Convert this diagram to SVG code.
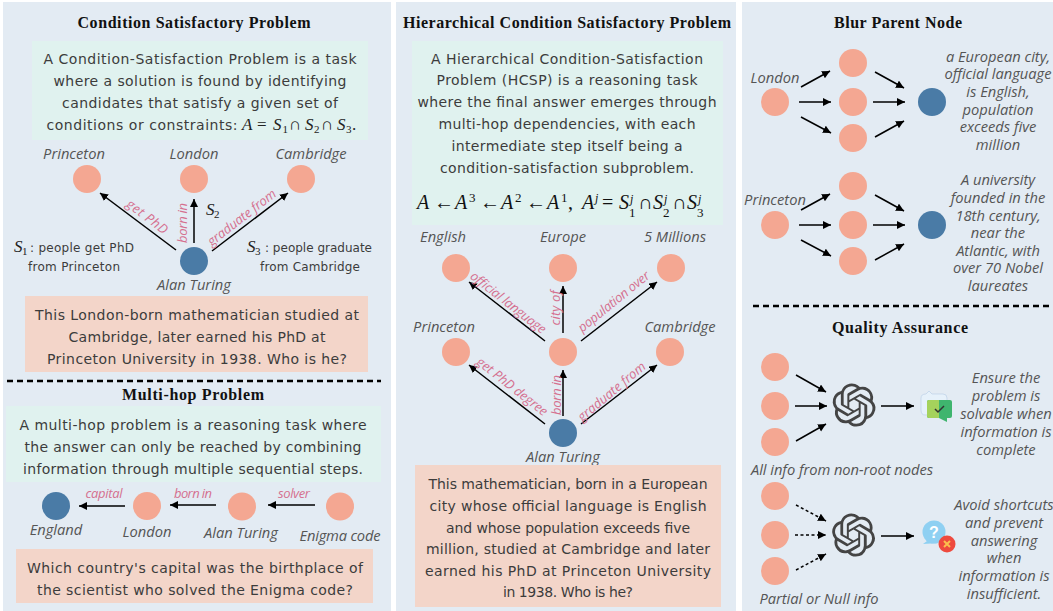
<svg xmlns="http://www.w3.org/2000/svg" width="1053" height="611" viewBox="0 0 1053 611">
<style>
.panel{fill:#e3ebf3}
.g{fill:#e0f2ef}
.o{fill:#f3d5c9}
.t{font:bold 16px "Liberation Serif",serif;fill:#111;text-anchor:middle}
.b{font:14px "DejaVu Sans",sans-serif;fill:#3c3c3c;text-anchor:middle}
.s{font:12px "DejaVu Sans",sans-serif;fill:#3c3c3c;text-anchor:middle}
.h{font:italic 14.7px "Open Sans",sans-serif;fill:#555;text-anchor:middle}
.e{font:italic 13px "Open Sans",sans-serif;fill:#d5708f;text-anchor:middle}
.m{font:italic 17px "Liberation Serif",serif;fill:#222}
.mr{font:17px "Liberation Serif",serif;fill:#222}
.u{font:11px "Liberation Serif",serif;fill:#222}
.M{font:italic 20px "Liberation Serif",serif;fill:#111}
.Mr{font:20px "Liberation Serif",serif;fill:#111}
.sm{font:italic 12px "Liberation Serif",serif;fill:#111}
.smr{font:13px "Liberation Serif",serif;fill:#111}
.n{fill:#f4a792}
.r{fill:#4a7ba6}
.a{stroke:#000;stroke-width:1.5;fill:none;marker-end:url(#ah)}
.d{stroke-dasharray:3 2.5}
.sep{stroke:#000;stroke-width:2.5;stroke-dasharray:6 4;fill:none}
</style>
<defs>
<marker id="ah" markerUnits="userSpaceOnUse" markerWidth="10" markerHeight="10" refX="8" refY="4" orient="auto"><path d="M0 0L8 4L0 8Z" fill="#000"/></marker>
<path id="gpt" fill="#444" transform="translate(-21.6,-21.6) scale(1.8)" d="M22.2819 9.8211a5.9847 5.9847 0 0 0-.5157-4.9108 6.0462 6.0462 0 0 0-6.5098-2.9A6.0651 6.0651 0 0 0 4.9807 4.1818a5.9847 5.9847 0 0 0-3.9977 2.9 6.0462 6.0462 0 0 0 .7427 7.0966 5.98 5.98 0 0 0 .511 4.9107 6.051 6.051 0 0 0 6.5146 2.9001A5.9847 5.9847 0 0 0 13.2599 24a6.0557 6.0557 0 0 0 5.7718-4.2058 5.9894 5.9894 0 0 0 3.9977-2.9001 6.0557 6.0557 0 0 0-.7475-7.0729zm-9.022 12.6081a4.4755 4.4755 0 0 1-2.8764-1.0408l.1419-.0804 4.7783-2.7582a.7948.7948 0 0 0 .3927-.6813v-6.7369l2.02 1.1686a.071.071 0 0 1 .038.052v5.5826a4.504 4.504 0 0 1-4.4945 4.4944zm-9.6607-4.1254a4.4708 4.4708 0 0 1-.5346-3.0137l.142.0852 4.783 2.7582a.7712.7712 0 0 0 .7806 0l5.8428-3.3685v2.3324a.0804.0804 0 0 1-.0332.0615L9.74 19.9502a4.4992 4.4992 0 0 1-6.1408-1.6464zM2.3408 7.8956a4.485 4.485 0 0 1 2.3655-1.9728V11.6a.7664.7664 0 0 0 .3879.6765l5.8144 3.3543-2.0201 1.1685a.0757.0757 0 0 1-.071 0l-4.8303-2.7865A4.504 4.504 0 0 1 2.3408 7.872zm16.5963 3.8558L13.1038 8.364 15.1192 7.2a.0757.0757 0 0 1 .071 0l4.8303 2.7913a4.4944 4.4944 0 0 1-.6765 8.1042v-5.6772a.79.79 0 0 0-.407-.667zm2.0107-3.0231l-.142-.0852-4.7735-2.7818a.7759.7759 0 0 0-.7854 0L9.409 9.2297V6.8974a.0662.0662 0 0 1 .0284-.0615l4.8303-2.7866a4.4992 4.4992 0 0 1 6.6802 4.66zM8.3065 12.863l-2.02-1.1638a.0804.0804 0 0 1-.038-.0567V6.0742a4.4992 4.4992 0 0 1 7.3757-3.4537l-.142.0805L8.704 5.459a.7948.7948 0 0 0-.3927.6813zm1.0976-2.3654l2.602-1.4998 2.6069 1.4998v2.9994l-2.5974 1.4997-2.6067-1.4997Z"/>
</defs>
<rect width="1053" height="611" fill="#fff"/>
<rect class="panel" x="3" y="2" width="388" height="609"/>
<rect class="panel" x="396" y="2" width="340" height="609"/>
<rect class="panel" x="742" y="2" width="311" height="609"/>

<g id="csp-box">
<text class="t" x="194" y="28" textLength="233">Condition Satisfactory Problem</text>
<rect class="g" x="32" y="41" width="336" height="99"/>
<text class="b" x="200" y="64" textLength="313">A Condition-Satisfaction Problem is a task</text>
<text class="b" x="200" y="86" textLength="293">where a solution is found by identifying</text>
<text class="b" x="200" y="108" textLength="276">candidates that satisfy a given set of</text>
<text class="b" x="142" y="130" textLength="191">conditions or constraints:</text>
<text class="m" x="242" y="130">A</text><text class="mr" x="257" y="130">=</text><text class="m" x="273" y="130">S</text><text class="u" x="282.500" y="133">1</text><text class="mr" x="289" y="130">∩</text><text class="m" x="305" y="130">S</text><text class="u" x="314" y="133">2</text><text class="mr" x="321" y="130">∩</text><text class="m" x="337" y="130">S</text><text class="u" x="346" y="133">3</text><text class="mr" x="352" y="130">.</text>
</g>
<g id="csp-edges">
<line class="a" x1="176" y1="250" x2="100" y2="193"/>
<line class="a" x1="194" y1="243" x2="194" y2="199"/>
<line class="a" x1="212" y1="251" x2="288" y2="193"/>
<text class="e" transform="translate(144.600,220.200) rotate(37)" textLength="48">get PhD</text>
<text class="e" transform="translate(187,223) rotate(-90)" textLength="40">born in</text>
<text class="e" transform="translate(244.500,221) rotate(-38)" textLength="83">graduate from</text>
</g>
<g id="csp-princeton"><circle class="n" cx="87" cy="179" r="14"/><text class="h" x="74" y="159">Princeton</text></g>
<g id="csp-london"><circle class="n" cx="194" cy="179" r="14"/><text class="h" x="194" y="159">London</text></g>
<g id="csp-cambridge"><circle class="n" cx="301" cy="179" r="14"/><text class="h" x="311" y="159">Cambridge</text></g>
<g id="csp-turing"><circle class="r" cx="194" cy="261" r="14"/><text class="h" x="194" y="290">Alan Turing</text></g>
<g id="csp-notes">
<text class="m" x="206" y="215">S</text><text class="u" x="214" y="218">2</text>
<text class="m" x="14" y="252">S</text><text class="u" x="22" y="255">1</text>
<text class="s" x="82" y="252" textLength="104">: people get PhD</text>
<text class="s" x="74" y="271" textLength="92">from Princeton</text>
<text class="m" x="247" y="252">S</text><text class="u" x="255" y="255">3</text>
<text class="s" x="318.500" y="252" textLength="107">: people graduate</text>
<text class="s" x="310" y="271" textLength="100">from Cambridge</text>
</g>
<g id="csp-question">
<rect class="o" x="25" y="296" width="343" height="76"/>
<text class="b" x="197" y="320" textLength="324">This London-born mathematician studied at</text>
<text class="b" x="197" y="342" textLength="257">Cambridge, later earned his PhD at</text>
<text class="b" x="197" y="364" textLength="300">Princeton University in 1938. Who is he?</text>
</g>
<line class="sep" x1="7" y1="381" x2="381" y2="381"/>

<g id="mh-box">
<text class="t" x="193" y="400" textLength="142">Multi-hop Problem</text>
<rect class="g" x="6" y="406" width="375" height="76"/>
<text class="b" x="193" y="430" textLength="347">A multi-hop problem is a reasoning task where</text>
<text class="b" x="193" y="452" textLength="337">the answer can only be reached by combining</text>
<text class="b" x="193" y="474" textLength="340">information through multiple sequential steps.</text>
</g>
<g id="mh-edges">
<line class="a" x1="125" y1="506" x2="79" y2="506"/>
<line class="a" x1="216" y1="505" x2="170" y2="505"/>
<line class="a" x1="315" y1="505" x2="268" y2="505"/>
<text class="e" x="104" y="498" textLength="37">capital</text>
<text class="e" x="193" y="498" textLength="38">born in</text>
<text class="e" x="294" y="498" textLength="32">solver</text>
</g>
<g id="mh-england"><circle class="r" cx="56" cy="506" r="14"/><text class="h" x="56" y="535">England</text></g>
<g id="mh-london"><circle class="n" cx="147" cy="506" r="14"/><text class="h" x="147" y="537">London</text></g>
<g id="mh-turing"><circle class="n" cx="242" cy="506.500" r="14"/><text class="h" x="241" y="538">Alan Turing</text></g>
<g id="mh-enigma"><circle class="n" cx="340" cy="506.500" r="14"/><text class="h" x="340" y="541" textLength="81">Enigma code</text></g>
<g id="mh-question">
<rect class="o" x="16" y="549" width="357" height="54"/>
<text class="b" x="195" y="573" textLength="336">Which country's capital was the birthplace of</text>
<text class="b" x="195" y="595" textLength="316">the scientist who solved the Enigma code?</text>
</g>

<g id="hcsp-box">
<text class="t" x="567" y="28" textLength="328">Hierarchical Condition Satisfactory Problem</text>
<rect class="g" x="412" y="41" width="311" height="184"/>
<text class="b" x="567" y="64" textLength="272">A Hierarchical Condition-Satisfaction</text>
<text class="b" x="567" y="85" textLength="261">Problem (HCSP) is a reasoning task</text>
<text class="b" x="567" y="107" textLength="299">where the final answer emerges through</text>
<text class="b" x="567" y="129" textLength="257">multi-hop dependencies, with each</text>
<text class="b" x="567" y="151" textLength="231">intermediate step itself being a</text>
<text class="b" x="567" y="173" textLength="254">condition-satisfaction subproblem.</text>
<text class="M" x="417" y="209">A</text><text class="Mr" x="434" y="209">←</text><text class="M" x="455" y="209">A</text><text class="smr" x="469" y="202">3</text><text class="Mr" x="480" y="209">←</text><text class="M" x="501" y="209">A</text><text class="smr" x="515" y="202">2</text><text class="Mr" x="526" y="209">←</text><text class="M" x="547" y="209">A</text><text class="smr" x="561" y="202">1</text><text class="Mr" x="568" y="209">,</text><text class="M" x="582" y="209">A</text><text class="sm" x="595" y="202">j</text><text class="Mr" x="602" y="209">=</text><text class="M" x="619" y="209">S</text><text class="sm" x="630" y="203">j</text><text class="smr" x="629" y="217">1</text><text class="Mr" x="638" y="209">∩</text><text class="M" x="653" y="209">S</text><text class="sm" x="664" y="203">j</text><text class="smr" x="663" y="217">2</text><text class="Mr" x="672" y="209">∩</text><text class="M" x="687" y="209">S</text><text class="sm" x="698" y="203">j</text><text class="smr" x="697" y="217">3</text>
</g>
<g id="hcsp-edges">
<line class="a" x1="545" y1="341" x2="469" y2="282"/>
<line class="a" x1="563" y1="333" x2="563" y2="286"/>
<line class="a" x1="581" y1="341" x2="657" y2="282"/>
<line class="a" x1="545" y1="424" x2="469" y2="365"/>
<line class="a" x1="563" y1="416" x2="563" y2="370"/>
<line class="a" x1="581" y1="424" x2="657" y2="365"/>
<text class="e" transform="translate(505.500,306) rotate(38)" textLength="92">official language</text>
<text class="e" transform="translate(559.500,308) rotate(-90)" textLength="35">city of</text>
<text class="e" transform="translate(616.500,305) rotate(-39)" textLength="88">population over</text>
<text class="e" transform="translate(509.500,390) rotate(38)" textLength="86">get PhD degree</text>
<text class="e" transform="translate(560.500,395) rotate(-90)" textLength="40">born in</text>
<text class="e" transform="translate(614.500,395) rotate(-40)" textLength="84">graduate from</text>
</g>
<g id="hcsp-english"><circle class="n" cx="456" cy="268" r="14"/><text class="h" x="443" y="242">English</text></g>
<g id="hcsp-europe"><circle class="n" cx="563" cy="268" r="14"/><text class="h" x="563" y="242">Europe</text></g>
<g id="hcsp-millions"><circle class="n" cx="671" cy="268" r="14"/><text class="h" x="675" y="242">5 Millions</text></g>
<g id="hcsp-princeton"><circle class="n" cx="456" cy="352" r="14"/><text class="h" x="444" y="332">Princeton</text></g>
<g id="hcsp-mid"><circle class="n" cx="563" cy="352" r="14"/></g>
<g id="hcsp-cambridge"><circle class="n" cx="670" cy="352" r="14"/><text class="h" x="680" y="332">Cambridge</text></g>
<g id="hcsp-turing"><circle class="r" cx="563" cy="433" r="14"/><text class="h" x="563" y="462">Alan Turing</text></g>
<g id="hcsp-question">
<rect class="o" x="415" y="465" width="306" height="142"/>
<text class="b" x="568" y="489" textLength="279">This mathematician, born in a European</text>
<text class="b" x="568" y="511" textLength="277">city whose official language is English</text>
<text class="b" x="568" y="533" textLength="244">and whose population exceeds five</text>
<text class="b" x="568" y="554" textLength="284">million, studied at Cambridge and later</text>
<text class="b" x="568" y="576" textLength="286">earned his PhD at Princeton University</text>
<text class="b" x="568" y="597" textLength="130">in 1938. Who is he?</text>
</g>

<text class="t" x="898" y="28" textLength="128">Blur Parent Node</text>
<g id="blur-edges">
<line class="a" x1="801" y1="87" x2="830" y2="71"/>
<line class="a" x1="799" y1="102" x2="831" y2="102"/>
<line class="a" x1="801" y1="117" x2="831" y2="133"/>
<line class="a" x1="875" y1="72" x2="904" y2="88"/>
<line class="a" x1="873" y1="102" x2="905" y2="102"/>
<line class="a" x1="875" y1="137" x2="904" y2="121"/>
<line class="a" x1="801" y1="210" x2="830" y2="194"/>
<line class="a" x1="799" y1="225" x2="831" y2="225"/>
<line class="a" x1="801" y1="240" x2="831" y2="256"/>
<line class="a" x1="875" y1="195" x2="904" y2="211"/>
<line class="a" x1="873" y1="225" x2="905" y2="225"/>
<line class="a" x1="875" y1="260" x2="904" y2="244"/>
</g>
<g id="blur-london"><circle class="n" cx="775" cy="102" r="14"/><text class="h" x="775" y="83">London</text></g>
<g id="blur-a1"><circle class="n" cx="853" cy="63" r="14"/></g>
<g id="blur-a2"><circle class="n" cx="853" cy="102" r="14"/></g>
<g id="blur-a3"><circle class="n" cx="853" cy="138" r="14"/></g>
<g id="blur-a-root"><circle class="r" cx="932" cy="102" r="14"/>
<text class="h" x="998" y="62">a European city,</text>
<text class="h" x="998" y="79">official language</text>
<text class="h" x="998" y="97">is English,</text>
<text class="h" x="998" y="115">population</text>
<text class="h" x="998" y="132">exceeds five</text>
<text class="h" x="998" y="150">million</text>
</g>
<g id="blur-princeton"><circle class="n" cx="775" cy="225" r="14"/><text class="h" x="775" y="205">Princeton</text></g>
<g id="blur-b1"><circle class="n" cx="853" cy="186" r="14"/></g>
<g id="blur-b2"><circle class="n" cx="853" cy="225" r="14"/></g>
<g id="blur-b3"><circle class="n" cx="853" cy="261" r="14"/></g>
<g id="blur-b-root"><circle class="r" cx="932" cy="225" r="14"/>
<text class="h" x="998" y="185">A university</text>
<text class="h" x="998" y="203">founded in the</text>
<text class="h" x="998" y="221">18th century,</text>
<text class="h" x="998" y="238">near the</text>
<text class="h" x="998" y="256">Atlantic, with</text>
<text class="h" x="998" y="273">over 70 Nobel</text>
<text class="h" x="998" y="291">laureates</text>
</g>
<line class="sep" x1="753" y1="306" x2="1053" y2="306"/>

<text class="t" x="900" y="333" textLength="136">Quality Assurance</text>
<g id="qa-edges">
<line class="a" x1="796" y1="375" x2="826" y2="392"/>
<line class="a" x1="795" y1="406" x2="827" y2="406"/>
<line class="a" x1="796" y1="441" x2="826" y2="424"/>
<line class="a" x1="881" y1="406" x2="914" y2="406"/>
<line class="a d" x1="796" y1="505" x2="826" y2="521"/>
<line class="a d" x1="795" y1="535" x2="826" y2="535"/>
<line class="a d" x1="796" y1="570" x2="826" y2="554"/>
<line class="a" x1="881" y1="536" x2="914" y2="536"/>
</g>
<g id="qa-top">
<circle class="n" cx="775" cy="367" r="14"/><circle class="n" cx="775" cy="406" r="14"/><circle class="n" cx="775" cy="442" r="14"/>
<text class="h" x="842" y="475" textLength="182">All info from non-root nodes</text>
</g>
<g id="qa-bottom">
<circle class="n" cx="775" cy="496" r="14"/><circle class="n" cx="775" cy="535" r="14"/><circle class="n" cx="775" cy="571" r="14"/>
<text class="h" x="819" y="604" textLength="119">Partial or Null info</text>
</g>
<g id="qa-model-1" transform="translate(854,405)"><use href="#gpt"/></g>
<g id="qa-model-2" transform="translate(853.500,535)"><use href="#gpt"/></g>
<g id="qa-check">
<path d="M926 394L929 391L932 394H943Q947 394 947 398V410Q947 415 943 415H925Q921 415 921 410V398Q921 394 926 394Z" fill="#e6f1fa" stroke="#bcd0e6" stroke-width=".7"/>
<rect x="927" y="400" width="25" height="18" rx="2" fill="#3fb56e"/>
<path d="M929 400H939V418H929Q927 418 927 416V402Q927 400 929 400Z" fill="#a5d25c"/>
<path d="M939 418H947V422Z" fill="#3fb56e"/>
<path d="M935 409L938 412L944 406" fill="none" stroke="#333" stroke-width="1.500"/>
</g>
<g id="qa-question">
<path d="M923 544L927 541L939 543Z" fill="#8fd0f2"/>
<circle cx="934" cy="532" r="11.500" fill="#8fd0f2"/>
<text x="934" y="538" style="font:bold 16px 'Liberation Sans',sans-serif;fill:#fff;text-anchor:middle">?</text>
<circle cx="947" cy="544" r="8.500" fill="#ee4a3e"/>
<path d="M944 541L950 547M950 541L944 547" stroke="#fbbf4d" stroke-width="2"/>
</g>
<g id="qa-text-1">
<text class="h" x="1006" y="383">Ensure the</text>
<text class="h" x="1006" y="401">problem is</text>
<text class="h" x="1006" y="419">solvable when</text>
<text class="h" x="1006" y="437">information is</text>
<text class="h" x="1006" y="455">complete</text>
</g>
<g id="qa-text-2">
<text class="h" x="1004" y="510">Avoid shortcuts</text>
<text class="h" x="1004" y="528">and prevent</text>
<text class="h" x="1004" y="546">answering</text>
<text class="h" x="1004" y="563">when</text>
<text class="h" x="1004" y="581">information is</text>
<text class="h" x="1004" y="599">insufficient.</text>
</g>
</svg>
